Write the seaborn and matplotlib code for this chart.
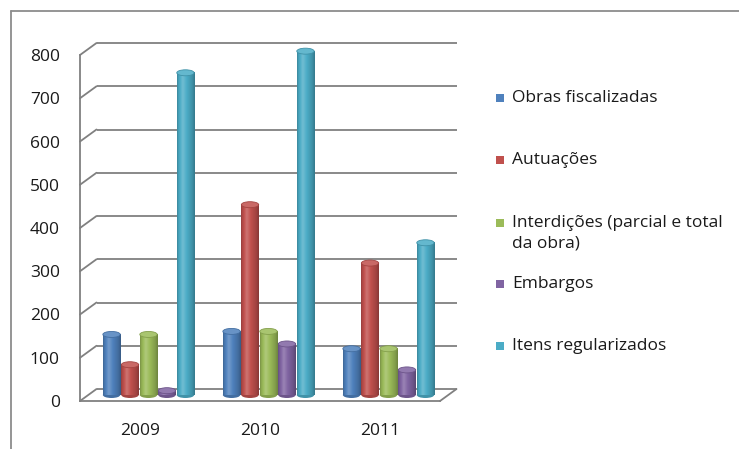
import numpy as np
import pandas as pd
import seaborn as sns
import matplotlib
matplotlib.use("Agg")
import matplotlib.pyplot as plt
import matplotlib.colors as mcolors
from matplotlib.transforms import ScaledTranslation, IdentityTransform
from matplotlib.patches import Ellipse, Rectangle
from matplotlib.lines import Line2D

# ---- data -------------------------------------------------------------
anos = ["2009", "2010", "2011"]
series = [
    "Obras fiscalizadas",
    "Autuações",
    "Interdições (parcial e total\nda obra)",
    "Embargos",
    "Itens regularizados",
]
obras = [140, 147, 107]
autuacoes = [70, 440, 305]
interdicoes = [140, 147, 107]
embargos = [10, 118, 58]
itens = [745, 795, 352]
y_ticks = [0, 100, 200, 300, 400, 500, 600, 700, 800]

cores = ["#4F81BD", "#C0504D", "#9BBB59", "#8064A2", "#4BACC6"]

valores = [obras, autuacoes, interdicoes, embargos, itens]
df = pd.DataFrame(
    [(a, s, v[i]) for s, v in zip(series, valores) for i, a in enumerate(anos)],
    columns=["Ano", "Serie", "Valor"],
)

# ---- figure -----------------------------------------------------------
W, H = 739, 449
sns.set_style("white")
plt.rcParams["font.family"] = ["Open Sans", "DejaVu Sans"]
GRID = "#808080"
TXT = "#1a1a1a"

fig = plt.figure(figsize=(W / 100, H / 100), dpi=100)
fig.patch.set_facecolor("white")

# front plane of the 3-D box: x from 80 to 440 px, y from 401 (0) to 55 (800)
ax = fig.add_axes([80 / W, 1 - 401 / H, 360 / W, 346 / H])
ax.set_facecolor("none")

GROUP_W = 0.77
sns.barplot(
    data=df, x="Ano", y="Valor", hue="Serie", order=anos, hue_order=series,
    palette=cores, width=GROUP_W, gap=0.0, legend=False, ax=ax, zorder=3,
)

ax.set_xlim(-0.5, 2.5)
ax.set_ylim(0, 800)

# depth offsets (back wall and bar row)
back = ax.transData + ScaledTranslation(16.5 / 100, 12 / 100, fig.dpi_scale_trans)
mid = ax.transData + ScaledTranslation(8.5 / 100, 6 / 100, fig.dpi_scale_trans)

# back-wall gridlines
for v in y_ticks:
    ax.plot([-0.5, 2.5], [v, v], transform=back, color=GRID, lw=1.3,
            clip_on=False, zorder=1, solid_capstyle="butt")

# cylinders: shaded body, rounded base and a lighter top cap
px_per_unit = 346 / 800
eh = 6 / px_per_unit
slot = GROUP_W / len(series)
t = np.linspace(0, 1, 80)
prof = np.interp(t, [0, 0.08, 0.32, 0.55, 0.85, 1.0],
                 [0.78, 0.92, 1.15, 1.0, 0.84, 0.70])


def shade(rgb, f):
    rgb = np.asarray(rgb)
    if f <= 1:
        return rgb * f
    return rgb + (1 - rgb) * (f - 1) * 1.4


for cont, col in zip(ax.containers, cores):
    base = np.array(mcolors.to_rgb(col))
    grad = np.array([shade(base, f) for f in prof])[None, :, :]
    grad = np.clip(grad, 0, 1)
    for bar in cont:
        xc = bar.get_x() + bar.get_width() / 2
        h = bar.get_height()
        w = slot * 0.94
        x0 = xc - w / 2
        bar.set_transform(mid)
        bar.set_alpha(0)
        ax.add_patch(Ellipse((xc, 0), w, eh, transform=mid, clip_on=False,
                             facecolor=shade(base, 0.85), edgecolor="none", zorder=3.5))
        im = ax.imshow(grad, extent=[x0, x0 + w, 0, h], aspect="auto",
                       interpolation="bilinear", transform=mid, zorder=4)
        im.set_clip_on(False)
        ax.add_patch(Ellipse((xc, h), w, eh, transform=mid, clip_on=False,
                             facecolor=shade(base, 1.1), edgecolor=shade(base, 0.85),
                             lw=0.6, zorder=5))

ax.set_xlim(-0.5, 2.5)
ax.set_ylim(0, 800)

# front axes
for s in ["top", "right"]:
    ax.spines[s].set_visible(False)
for s in ["left", "bottom"]:
    ax.spines[s].set_color(GRID)
    ax.spines[s].set_linewidth(1.3)
    ax.spines[s].set_zorder(2)

ax.set_yticks(y_ticks)
ax.set_yticklabels([str(v) for v in y_ticks])
ax.tick_params(axis="y", direction="out", length=5.5, width=1.3, color=GRID,
               pad=9, labelsize=12.5, labelcolor=TXT)
ax.set_xticks([-0.5, 0.5, 1.5, 2.5])
ax.set_xticklabels([])
ax.tick_params(axis="x", which="major", direction="out", length=4, width=1.3, color=GRID)
ax.set_xticks([0, 1, 2], minor=True)
ax.set_xticklabels(anos, minor=True)
ax.tick_params(axis="x", which="minor", length=0, pad=16, labelsize=12.5, labelcolor=TXT)
ax.set_xlabel("")
ax.set_ylabel("")

# side-wall and floor diagonals (front plane -> back wall)
fig.canvas.draw()
pix = IdentityTransform()
diag_pts = [(-0.5, v) for v in y_ticks] + [(2.5, 0)]
for (xd, yd) in diag_pts:
    p0 = ax.transData.transform((xd, yd))
    p1 = back.transform((xd, yd))
    fig.add_artist(Line2D([p0[0], p1[0]], [p0[1], p1[1]], transform=pix,
                          color=GRID, lw=1.3, zorder=1))

# chart-area frame (left and top edges)
fig.add_artist(Line2D([11 / W, 11 / W], [0, 1 - 11 / H], transform=fig.transFigure,
                      color="#8c8c8c", lw=1.3))
fig.add_artist(Line2D([11 / W, 1], [1 - 11 / H, 1 - 11 / H], transform=fig.transFigure,
                      color="#8c8c8c", lw=1.3))

# legend
leg_y = [98, 160, 223, 284, 346]
for lab, col, yy in zip(series, cores, leg_y):
    fig.add_artist(Rectangle((496 / W, 1 - (yy + 4) / H), 8 / W, 8 / H,
                             transform=fig.transFigure, facecolor=col,
                             edgecolor="none"))
    fig.text(512 / W, 1 - (yy - 8) / H, lab, ha="left", va="top",
             fontsize=12.5, color=TXT, linespacing=1.35)

fig.savefig("out.png", dpi=100, facecolor="white")
